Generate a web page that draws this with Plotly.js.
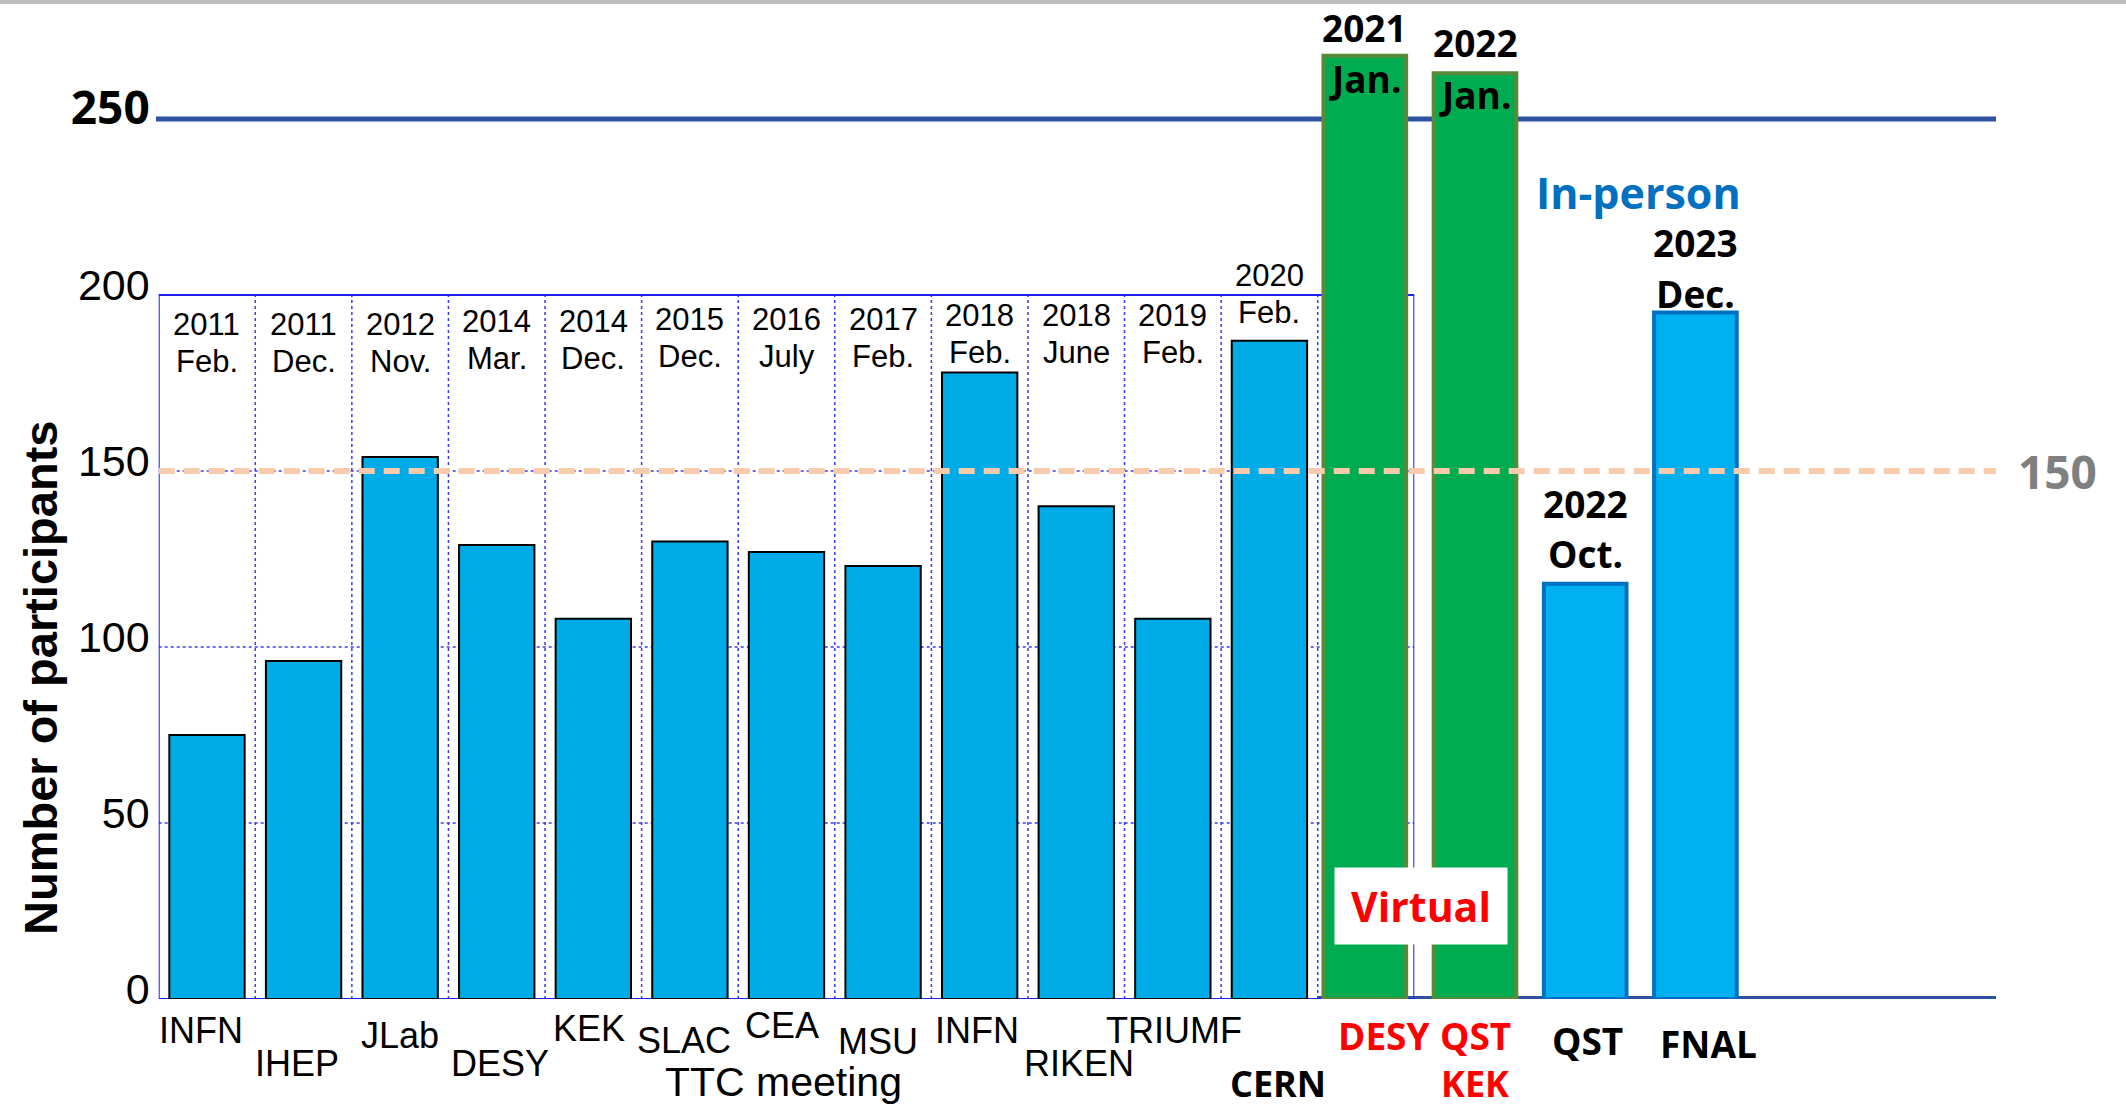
<!DOCTYPE html>
<html>
<head>
<meta charset="utf-8">
<script src="https://cdn.plot.ly/plotly-3.0.1.min.js"></script>
<style>
  html, body { margin: 0; padding: 0; background: #ffffff; }
  #chart { width: 2126px; height: 1110px; }
</style>
</head>
<body>
<div id="chart"></div>
<script>
// ---------------- DATA ----------------
// Original TTC meeting chart (2011 - 2020)
const oldHosts = ['INFN', 'IHEP', 'JLab', 'DESY', 'KEK', 'SLAC', 'CEA', 'MSU', 'INFN', 'RIKEN', 'TRIUMF', 'CERN'];
const oldYears = ['2011', '2011', '2012', '2014', '2014', '2015', '2016', '2017', '2018', '2018', '2019', '2020'];
const oldMonths = ['Feb.', 'Dec.', 'Nov.', 'Mar.', 'Dec.', 'Dec.', 'July', 'Feb.', 'Feb.', 'June', 'Feb.', 'Feb.'];
const oldParticipants = [75, 96, 154, 129, 108, 130, 127, 123, 178, 140, 108, 187];

// Meetings added afterwards (2021 - 2023)
const newHosts = ['DESY', 'QST\nKEK', 'QST', 'FNAL'];
const newYears = ['2021', '2022', '2022', '2023'];
const newMonths = ['Jan.', 'Jan.', 'Oct.', 'Dec.'];
const newParticipants = [268, 263, 118, 195];
const newFormats = ['Virtual', 'Virtual', 'In-person', 'In-person'];

// Axis ticks and reference values
const yTickVals = [0, 50, 100, 150, 200, 250];
const yTickText = ['0', '50', '100', '150', '200', '250'];
const referenceLevel = 150;
const groupLabel = 'TTC meeting';
const yTitle = 'Number of participants';

// ---------------- LAYOUT / STYLE ----------------
const W = 2126, H = 1110;
const plotH = 999;                 // bottom margin = H - plotH
const pxPerUnit = 3.52;
const yMax = plotH / pxPerUnit;

const OLD_FONT = 'Liberation Sans, Arial, sans-serif';
const NEW_FONT = 'Open Sans, Liberation Sans, sans-serif';

const oldCats = oldHosts.map((h, i) => h + ' ' + oldYears[i] + ' ' + oldMonths[i]);
const newCats = newHosts.map((h, i) => h.replace('\n', '/') + ' ' + newYears[i] + ' ' + newMonths[i]);
const oldBoxTop = 200;             // top of the original chart frame
const oldSlots = oldCats.length + 1;

const colors = {
  oldFill: '#00ACE8', oldLine: '#000000',
  virtualFill: '#00AC4F', virtualLine: '#588A3A',
  inPersonFill: '#00B0F0', inPersonLine: '#0070C0',
  frame: '#1F1FF5', grid: '#3A3AF0',
  bigLine: '#2F52A0', peach: '#F8CBAD', grey: '#7F7F7F',
  red: '#FF0000', blueText: '#0070C0'
};

// label placement (pixels below the axis / horizontal nudges / upward lifts)
const oldHostDrop = [31, 64, 36, 64, 29, 41, 26, 42, 31, 64, 31, 84];
const oldHostShift = [-6, -7, 0, 3, -4, -6, -5, -5, -3, 3, 1, 9];
const oldDateLift = [0, 0, 0, 3, 3, 5, 5, 5, 9, 9, 9, 0];
const newHostDrop = [36, 36, 41, 44];
const newHostShift = [19, 0, 2, 13];
const newYearShift = [28, 31, 80, 70];
const newMonthShift = [-23, -21, 30, 19];

const traces = [
  {
    type: 'bar',
    x: oldCats,
    y: oldParticipants,
    xaxis: 'x', yaxis: 'y',
    width: 0.78,
    marker: { color: colors.oldFill, line: { color: colors.oldLine, width: 2 } },
    hoverinfo: 'x+y'
  },
  {
    type: 'bar',
    x: newCats,
    y: newParticipants,
    xaxis: 'x2', yaxis: 'y',
    width: 0.75,
    marker: {
      color: newFormats.map(f => f === 'Virtual' ? colors.virtualFill : colors.inPersonFill),
      line: {
        color: newFormats.map(f => f === 'Virtual' ? colors.virtualLine : colors.inPersonLine),
        width: 4
      }
    },
    hoverinfo: 'x+y'
  }
];

const shapes = [];
// thin grey band at the very top
shapes.push({ type: 'rect', xref: 'paper', yref: 'paper', x0: 0, x1: 1, y0: 0.996, y1: 1.0,
  fillcolor: '#BFBFBF', line: { width: 0 }, layer: 'below' });
// dotted horizontal grid of the original chart
yTickVals.filter(v => v > 0 && v < oldBoxTop).forEach(v => {
  shapes.push({ type: 'line', xref: 'x', yref: 'y', x0: -0.5, x1: oldSlots - 0.5, y0: v, y1: v,
    line: { color: colors.grid, width: 1.5, dash: 'dot' }, layer: 'below' });
});
// dotted vertical separators between categories
for (let k = 0; k < oldCats.length; k++) {
  shapes.push({ type: 'line', xref: 'x', yref: 'y', x0: k + 0.5, x1: k + 0.5, y0: 0, y1: oldBoxTop,
    line: { color: colors.grid, width: 1.5, dash: 'dot' }, layer: 'below' });
}
// frame of the original chart
shapes.push({ type: 'rect', xref: 'x', yref: 'y', x0: -0.5, x1: oldSlots - 0.5, y0: 0, y1: oldBoxTop,
  line: { color: colors.frame, width: 2 }, fillcolor: 'rgba(0,0,0,0)', layer: 'below' });
// 250 line
shapes.push({ type: 'line', xref: 'paper', yref: 'y', x0: 156 / W, x1: 1996 / W, y0: 250, y1: 250,
  line: { color: colors.bigLine, width: 5 }, layer: 'below' });
// thick baseline for the added meetings
shapes.push({ type: 'line', xref: 'paper', yref: 'y', x0: 1317 / W, x1: 1996 / W, y0: 0, y1: 0,
  line: { color: colors.bigLine, width: 6 }, layer: 'below' });
// 150 reference dashed line
shapes.push({ type: 'line', xref: 'paper', yref: 'y', x0: 158.7 / W, x1: 1996 / W,
  y0: referenceLevel, y1: referenceLevel,
  line: { color: colors.peach, width: 6, dash: '16px,9px' }, layer: 'above' });

const annotations = [];
const oldFont = (size) => ({ family: OLD_FONT, size: size, color: '#000000' });
const newFont = (size, color) => ({ family: NEW_FONT, size: size, color: color || '#000000', weight: 700 });

// y axis title
annotations.push({ text: yTitle, xref: 'paper', yref: 'paper', x: 40 / W, y: (plotH - 678) / plotH,
  textangle: -90, showarrow: false, xanchor: 'center', yanchor: 'middle',
  font: { family: OLD_FONT, size: 47, color: '#000000', weight: 700 } });

// dates over original bars
oldCats.forEach((c, i) => {
  const v = oldParticipants[i];
  const monthY = v > 180 ? v + 8 : 181;
  const yearY = monthY + 10.5;
  annotations.push({ text: oldYears[i], x: c, xref: 'x', y: yearY, yref: 'y', yshift: oldDateLift[i],
    showarrow: false, xanchor: 'center', yanchor: 'middle', font: oldFont(31) });
  annotations.push({ text: oldMonths[i], x: c, xref: 'x', y: monthY, yref: 'y', yshift: oldDateLift[i],
    showarrow: false, xanchor: 'center', yanchor: 'middle', font: oldFont(31) });
});
// hosts under original bars (the last one restyled in the new style)
oldCats.forEach((c, i) => {
  const last = i === oldCats.length - 1;
  annotations.push({ text: oldHosts[i], x: c, xref: 'x', y: 0, yref: 'y',
    yshift: -oldHostDrop[i], xshift: oldHostShift[i], showarrow: false,
    xanchor: 'center', yanchor: 'middle', font: last ? newFont(36) : oldFont(36) });
});
annotations.push({ text: groupLabel, xref: 'paper', yref: 'y', x: 783 / W, y: 0, yshift: -83,
  showarrow: false, xanchor: 'center', yanchor: 'middle', font: oldFont(41) });

// labels of added meetings
newCats.forEach((c, i) => {
  const v = newParticipants[i];
  const virtual = newFormats[i] === 'Virtual';
  annotations.push({ text: newYears[i], x: c, xref: 'x2', y: v, yref: 'y',
    yshift: newYearShift[i], showarrow: false, xanchor: 'center', yanchor: 'middle', font: newFont(37) });
  annotations.push({ text: newMonths[i], x: c, xref: 'x2', y: v, yref: 'y',
    yshift: newMonthShift[i], showarrow: false, xanchor: 'center', yanchor: 'middle', font: newFont(37) });
  newHosts[i].split('\n').forEach((line, j) => {
    const size = j > 0 ? 36 : 37;
    annotations.push({ text: line, x: c, xref: 'x2', y: 0, yref: 'y',
      yshift: -(newHostDrop[i] + 48 * j), xshift: newHostShift[i], showarrow: false,
      xanchor: 'center', yanchor: 'middle', font: newFont(size, virtual ? colors.red : '#000000') });
  });
});

annotations.push({ text: 'Virtual', xref: 'paper', yref: 'paper', x: 1421 / W, y: (plotH - 906) / plotH,
  showarrow: false, xanchor: 'center', yanchor: 'middle', bgcolor: '#FFFFFF',
  width: 170, height: 74, borderpad: 1, font: newFont(41, colors.red) });
annotations.push({ text: 'In-person', xref: 'paper', yref: 'paper', x: 1638 / W, y: (plotH - 192) / plotH,
  showarrow: false, xanchor: 'center', yanchor: 'middle', font: newFont(43, colors.blueText) });
annotations.push({ text: String(referenceLevel), xref: 'paper', yref: 'y', x: 2057 / W, y: referenceLevel,
  showarrow: false, xanchor: 'center', yanchor: 'middle', font: newFont(46, colors.grey) });

const tickText = yTickText.map((t, i) => yTickVals[i] > oldBoxTop
  ? '<span style="font-family:Open Sans;font-weight:bold;font-size:46px">' + t + '</span>'
  : t);

const layout = {
  width: W, height: H,
  margin: { l: 0, r: 0, t: 0, b: H - plotH, pad: 0 },
  paper_bgcolor: '#FFFFFF',
  plot_bgcolor: 'rgba(0,0,0,0)',
  showlegend: false,
  bargap: 0,
  xaxis: {
    domain: [158.7 / W, 1414.3 / W], type: 'category', categoryorder: 'array', categoryarray: oldCats,
    range: [-0.5, oldSlots - 0.5], anchor: 'y',
    showticklabels: false, showgrid: false, zeroline: false, showline: false, ticks: ''
  },
  xaxis2: {
    domain: [1309.7 / W, 1750.5 / W], type: 'category', categoryorder: 'array', categoryarray: newCats,
    range: [-0.5, newCats.length - 0.5], anchor: 'y',
    showticklabels: false, showgrid: false, zeroline: false, showline: false, ticks: ''
  },
  yaxis: {
    domain: [0, 1], range: [0, yMax], anchor: 'x',
    tickmode: 'array', tickvals: yTickVals, ticktext: tickText,
    tickfont: { family: OLD_FONT, size: 43, color: '#000000' },
    ticks: '', ticklabelstandoff: 8, ticklabelshift: -10,
    showgrid: false, zeroline: false, showline: false
  },
  shapes: shapes,
  annotations: annotations
};

Plotly.newPlot('chart', traces, layout, { staticPlot: true, displayModeBar: false });
</script>
</body>
</html>
